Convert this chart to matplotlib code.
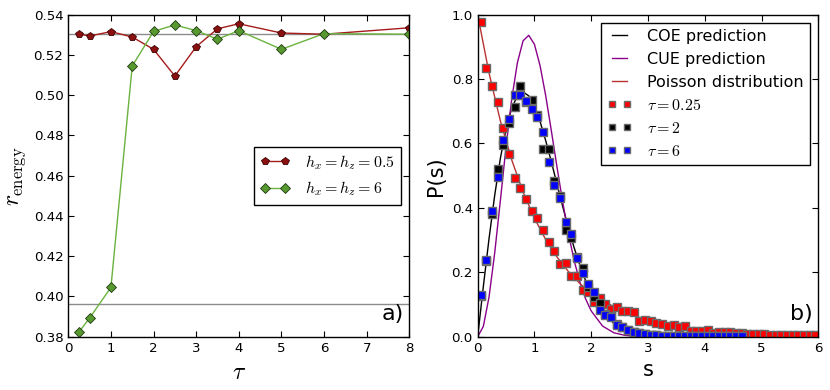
import numpy as np
import matplotlib
matplotlib.use('Agg')
import matplotlib.pyplot as plt

plt.rcParams.update({
    'mathtext.fontset': 'cm',
    'font.size': 9.6,
    'xtick.direction': 'in',
    'ytick.direction': 'in',
    'xtick.top': True,
    'ytick.right': True,
    'xtick.major.size': 4,
    'ytick.major.size': 4,
    'axes.linewidth': 1.0,
    'legend.fancybox': False,
    'legend.framealpha': 1,
    'legend.edgecolor': 'black',
})

# ---- panel a) : r_energy vs tau ----
tau = [0.25, 0.5, 1, 1.5, 2, 2.5, 3, 3.5, 4, 5, 6, 8]
r_h05 = [0.5304, 0.5294, 0.5316, 0.5289, 0.5228, 0.5095,
         0.5241, 0.5330, 0.5355, 0.5309, 0.5303, 0.5335]
r_h6 = [0.3823, 0.3893, 0.4045, 0.5145, 0.5317, 0.5349,
        0.5321, 0.5278, 0.5321, 0.5228, 0.5306, 0.5303]
r_coe_level = 0.5305
r_low_level = 0.396

# ---- panel b) : level spacing distribution ----
# theory curves
curve_s = [0.0, 0.1, 0.2, 0.3, 0.4, 0.5, 0.6, 0.7, 0.8, 0.9, 1.0,
           1.1, 1.2, 1.3, 1.4, 1.5, 1.6, 1.7, 1.8, 1.9, 2.0,
           2.2, 2.4, 2.6, 2.8, 3.0, 3.5, 4.0, 6.0]
coe_p = [0.0, 0.156, 0.304, 0.439, 0.554, 0.645, 0.710, 0.748, 0.760, 0.748, 0.716,
         0.668, 0.608, 0.542, 0.472, 0.403, 0.337, 0.276, 0.222, 0.175, 0.136,
         0.077, 0.041, 0.020, 0.009, 0.004, 0.0004, 0.0, 0.0]
cue_p = [0.0, 0.032, 0.123, 0.260, 0.423, 0.590, 0.738, 0.851, 0.919, 0.936, 0.908,
         0.841, 0.747, 0.637, 0.524, 0.416, 0.319, 0.236, 0.170, 0.118, 0.080,
         0.033, 0.012, 0.004, 0.001, 0.0003, 0.0, 0.0, 0.0]
pois_s = [0.0, 0.2, 0.4, 0.6, 0.8, 1.0, 1.2, 1.4, 1.6, 1.8, 2.0,
          2.5, 3.0, 3.5, 4.0, 5.0, 6.0]
pois_p = [1.0, 0.819, 0.670, 0.549, 0.449, 0.368, 0.301, 0.247, 0.202, 0.165, 0.135,
          0.082, 0.050, 0.030, 0.018, 0.0067, 0.0025]

# histogram bin centres
s_bins = np.arange(60) * 0.1 + 0.05
p_tau025 = [0.976, 0.834, 0.778, 0.728, 0.649, 0.567, 0.494, 0.461, 0.427, 0.391,
            0.368, 0.330, 0.293, 0.266, 0.226, 0.229, 0.189, 0.189, 0.144, 0.138,
            0.109, 0.121, 0.101, 0.085, 0.091, 0.080, 0.080, 0.078, 0.050, 0.051,
            0.050, 0.042, 0.039, 0.033, 0.035, 0.029, 0.034, 0.019, 0.019, 0.019,
            0.020, 0.013, 0.014, 0.015, 0.016, 0.011, 0.012, 0.007, 0.007, 0.007,
            0.007, 0.006, 0.005, 0.006, 0.005, 0.004, 0.005, 0.004, 0.004, 0.004]
p_tau2 = [0.125, 0.235, 0.381, 0.520, 0.595, 0.665, 0.714, 0.779, 0.728, 0.735,
          0.690, 0.582, 0.582, 0.484, 0.437, 0.331, 0.306, 0.248, 0.214, 0.155,
          0.122, 0.104, 0.070, 0.064, 0.040, 0.030, 0.020, 0.014, 0.010, 0.007,
          0.005, 0.004, 0.003, 0.002, 0.002, 0.002, 0.002, 0.002, 0.002, 0.002,
          0.002, 0.002, 0.002, 0.002, 0.002, 0.002, 0.002]
p_tau6 = [0.130, 0.238, 0.390, 0.497, 0.610, 0.676, 0.751, 0.751, 0.733, 0.706,
          0.683, 0.637, 0.543, 0.472, 0.430, 0.357, 0.319, 0.243, 0.197, 0.163,
          0.140, 0.084, 0.067, 0.062, 0.037, 0.030, 0.020, 0.014, 0.010, 0.007,
          0.005, 0.004, 0.003, 0.002, 0.002, 0.002, 0.002, 0.002, 0.002, 0.002,
          0.002, 0.002, 0.002, 0.002, 0.002, 0.002, 0.002]

fig = plt.figure(figsize=(8.3, 3.9), dpi=100)
ax1 = fig.add_axes([0.0823, 0.1367, 0.4108, 0.8256])
ax2 = fig.add_axes([0.5755, 0.1367, 0.4104, 0.8256])

# left panel
ax1.axhline(r_coe_level, color='#8c8c8c', lw=1)
ax1.axhline(r_low_level, color='#8c8c8c', lw=1)
ax1.plot(tau, r_h05, '-p', color='#a51c1c', mfc='#8b1010', mec='#3a0000',
         ms=6, mew=0.6, lw=1, label=r'$h_x=h_z=0.5$')
ax1.plot(tau, r_h6, '-D', color='#6bb23e', mfc='#57982f', mec='#1e3a10',
         ms=5.5, mew=0.6, lw=1, label=r'$h_x=h_z=6$')
ax1.set_xlim(0, 8)
ax1.set_ylim(0.38, 0.54)
ax1.set_xticks(range(0, 9))
ax1.set_yticks(np.arange(0.38, 0.5401, 0.02))
ax1.set_yticklabels(['%.2f' % v for v in np.arange(0.38, 0.5401, 0.02)])
ax1.set_xlabel(r'$\tau$', fontsize=17)
ax1.set_ylabel(r'$r_{\rm energy}$', fontsize=17)
ax1.legend(loc='center right', numpoints=2, fontsize=11.5, handlelength=1.8,
           handletextpad=1.0)
ax1.text(0.985, 0.04, 'a)', transform=ax1.transAxes, ha='right', va='bottom',
         fontsize=16)

# right panel
ax2.plot(curve_s, coe_p, color='black', lw=1, label='COE prediction')
ax2.plot(curve_s, cue_p, color='#8b008b', lw=1, label='CUE prediction')
ax2.plot(pois_s, pois_p, color='#b83232', lw=1, label='Poisson distribution')
ax2.plot(s_bins[:len(p_tau025)], p_tau025, 's', color='#ff0000', mec='#6a6a6a',
         mew=1.0, ms=5.5, label=r'$\tau=0.25$')
ax2.plot(s_bins[:len(p_tau2)], p_tau2, 's', color='#000000', mec='#6a6a6a',
         mew=1.0, ms=5.5, label=r'$\tau=2$')
ax2.plot(s_bins[:len(p_tau6)], p_tau6, 's', color='#0000ff', mec='#6a6a6a',
         mew=1.0, ms=5.5, label=r'$\tau=6$')
ax2.set_xlim(0, 6)
ax2.set_ylim(0, 1.0)
ax2.set_xticks(range(0, 7))
ax2.set_yticks([0.0, 0.2, 0.4, 0.6, 0.8, 1.0])
ax2.set_yticklabels(['0.0', '0.2', '0.4', '0.6', '0.8', '1.0'])
ax2.set_xlabel('s', fontsize=15)
ax2.set_ylabel('P(s)', fontsize=15)
leg = ax2.legend(loc='upper right', numpoints=2, fontsize=11.5, handlelength=1.5,
                 handletextpad=1.0, markerscale=0.8)
ax2.text(0.985, 0.04, 'b)', transform=ax2.transAxes, ha='right', va='bottom',
         fontsize=16)

fig.savefig('out.png', dpi=100)
